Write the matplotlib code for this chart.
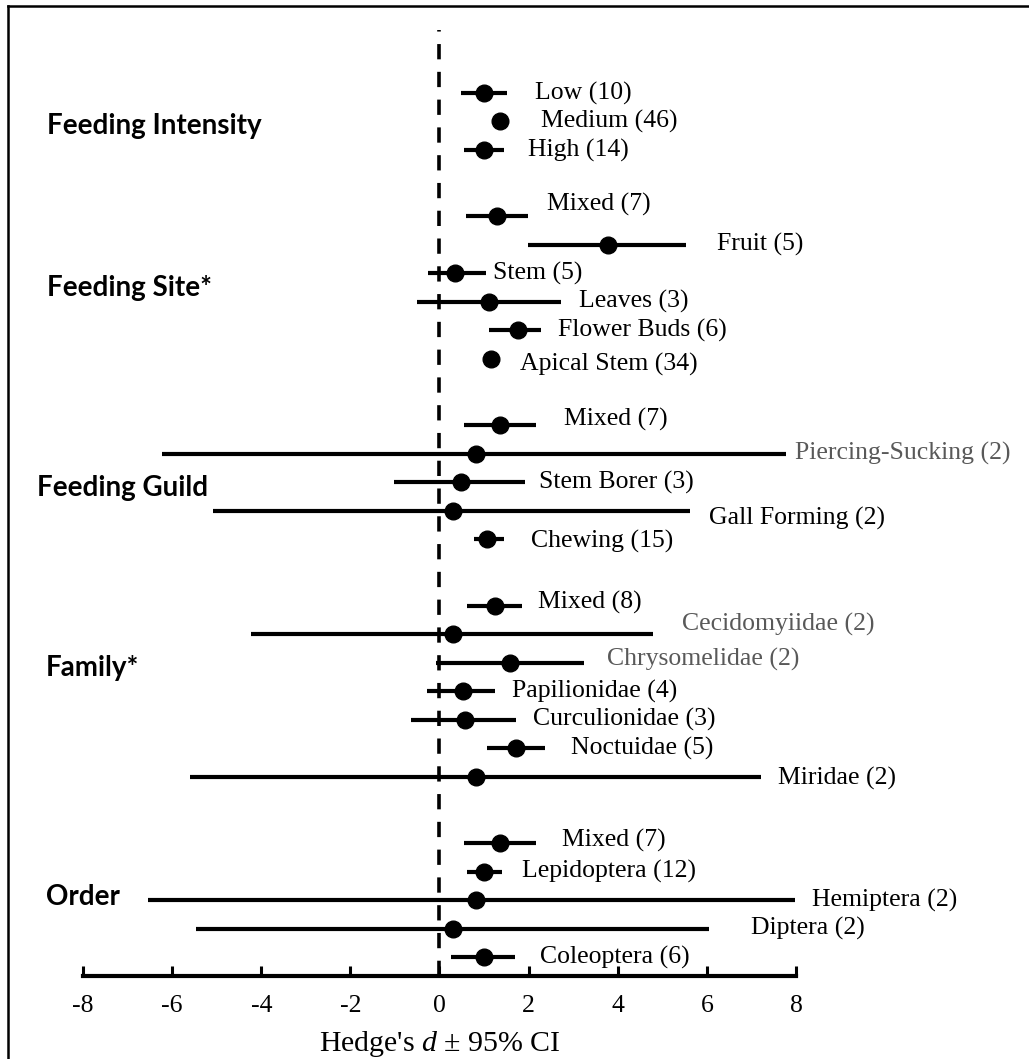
import matplotlib
matplotlib.use('Agg')
from matplotlib import pyplot
from matplotlib.lines import Line2D

pyplot.rcParams['font.family'] = ['Liberation Serif', 'DejaVu Serif']
pyplot.rcParams['mathtext.fontset'] = 'custom'
pyplot.rcParams['mathtext.rm'] = 'Liberation Serif'
pyplot.rcParams['mathtext.it'] = 'Liberation Serif:italic'
pyplot.rcParams['lines.scale_dashes'] = False
pyplot.rcParams['axes.unicode_minus'] = False

# groups, top to bottom
group_names = ['Feeding Intensity', 'Feeding Site*', 'Feeding Guild', 'Family*', 'Order']
group_sizes = [3, 6, 5, 7, 5]

row_labels = ['Low (10)', 'Medium (46)', 'High (14)',
              'Mixed (7)', 'Fruit (5)', 'Stem (5)', 'Leaves (3)', 'Flower Buds (6)', 'Apical Stem (34)',
              'Mixed (7)', 'Piercing-Sucking (2)', 'Stem Borer (3)', 'Gall Forming (2)', 'Chewing (15)',
              'Mixed (8)', 'Cecidomyiidae (2)', 'Chrysomelidae (2)', 'Papilionidae (4)',
              'Curculionidae (3)', 'Noctuidae (5)', 'Miridae (2)',
              'Mixed (7)', 'Lepidoptera (12)', 'Hemiptera (2)', 'Diptera (2)', 'Coleoptera (6)']
effect = [0.99, 1.36, 0.99,
          1.29, 3.78, 0.35, 1.11, 1.77, 1.15,
          1.36, 0.82, 0.48, 0.30, 1.06,
          1.25, 0.30, 1.59, 0.52, 0.57, 1.72, 0.82,
          1.36, 1.00, 0.82, 0.30, 1.00]
ci_low = [0.49, 1.20, 0.56,
          0.59, 1.99, -0.26, -0.51, 1.11, 1.00,
          0.56, -6.23, -1.03, -5.08, 0.77,
          0.62, -4.22, -0.07, -0.29, -0.63, 1.06, -5.59,
          0.55, 0.62, -6.55, -5.47, 0.26]
ci_high = [1.52, 1.55, 1.44,
           1.99, 5.53, 1.04, 2.73, 2.28, 1.30,
           2.17, 7.78, 1.92, 5.63, 1.44,
           1.85, 4.79, 3.24, 1.25, 1.72, 2.36, 7.21,
           2.17, 1.40, 7.98, 6.05, 1.70]

# label placement (layout only)
label_x = [2.14, 2.28, 1.99,
           2.41, 6.23, 1.20, 3.13, 2.66, 1.81,
           2.79, 7.98, 2.23, 6.05, 2.05,
           2.21, 5.44, 3.76, 1.63, 2.10, 2.95, 7.60,
           2.75, 1.85, 8.36, 6.99, 2.26]
label_dy = [0, 0, 0,
            -0.42, 0, 0, 0, 0, 0.18,
            -0.2, 0, 0, 0.25, 0.07,
            -0.1, -0.35, -0.1, 0, 0, 0, 0.07,
            -0.1, 0, 0, 0, 0]
grey_rows = {'Piercing-Sucking (2)', 'Cecidomyiidae (2)', 'Chrysomelidae (2)'}
title_x = [-8.81, -8.81, -9.03, -8.83, -8.83]
title_dy = [0.16, 0, 0.2, -0.8, -0.1]

group_gap = 2.33
ypos = []
group_mid = []
pos = 0.0
for n in group_sizes:
    start = pos
    for k in range(n):
        ypos.append(pos)
        pos += 1
    group_mid.append((start + pos - 1) / 2)
    pos += group_gap - 1

fig = pyplot.figure(figsize=(10.29, 10.59), dpi=100)
ax = fig.add_axes([83 / 1029, 1 - 976 / 1059, 713 / 1029, 946 / 1059])

xerr = [[e - l for e, l in zip(effect, ci_low)], [h - e for e, h in zip(effect, ci_high)]]
eb = ax.errorbar(effect, ypos, xerr=xerr, fmt='o', color='black', ms=12,
                 elinewidth=3, capsize=0, zorder=3)
for art in eb.lines[0:1] + tuple(eb.lines[2]):
    art.set_clip_on(False)

ax.axvline(0, color='black', lw=2.6, dashes=(11, 9), zorder=2)

for i, lab in enumerate(row_labels):
    col = '#595959' if lab in grey_rows else 'black'
    ax.text(label_x[i], ypos[i] + label_dy[i], lab, ha='left', va='center',
            fontsize=18.5, color=col, clip_on=False)

for g, name in enumerate(group_names):
    ax.text(title_x[g], group_mid[g] + title_dy[g], name, ha='left', va='center',
            fontsize=20, fontweight='bold', family='Lato', clip_on=False)

ax.set_xlim(-8, 8)
ax.set_ylim(30.98, -2.21)
ax.set_xticks(range(-8, 9, 2))
ax.set_yticks([])
for s in ['left', 'right', 'top']:
    ax.spines[s].set_visible(False)
ax.spines['bottom'].set_linewidth(3)
ax.tick_params(axis='x', direction='in', length=7, width=2.2, labelsize=18.5, pad=14)
ax.set_xlabel("Hedge's $d$ \u00b1 95% CI", fontsize=21.5, labelpad=8)

# frame lines (top and left only)
fig.add_artist(Line2D([7.5 / 1029, 7.5 / 1029], [0, 1 - 5.5 / 1059], color='black', lw=1.8))
fig.add_artist(Line2D([7.5 / 1029, 1], [1 - 5.5 / 1059, 1 - 5.5 / 1059], color='black', lw=1.8))

pyplot.savefig('out.png')
